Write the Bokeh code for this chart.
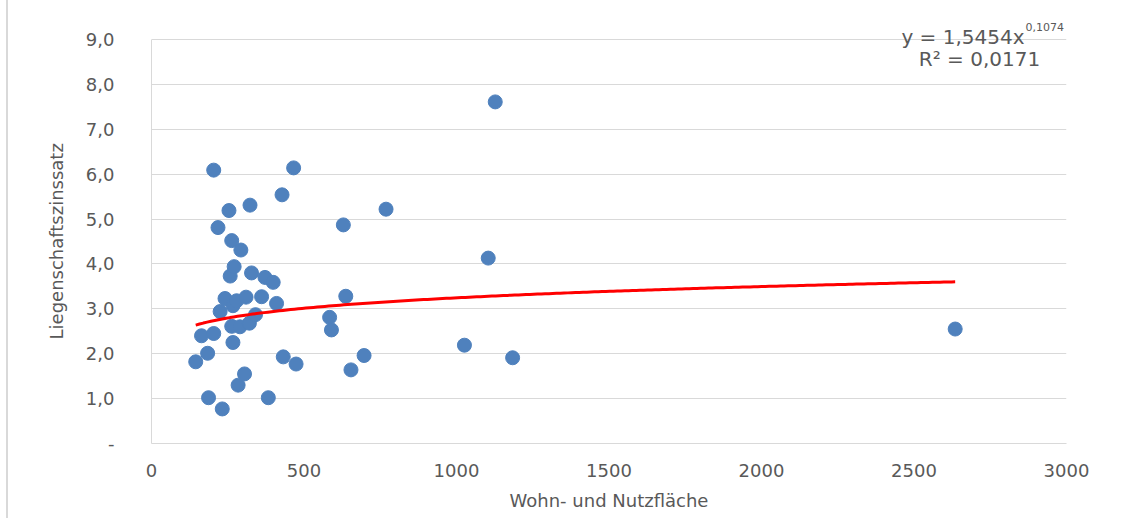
from bokeh.plotting import figure
from bokeh.models import Label, Range1d, FixedTicker
from bokeh.embed import file_html
from bokeh.resources import INLINE

# ---- data ----
flaeche = [145, 164, 184, 187, 204, 204, 218, 225, 232, 241, 254, 258, 263, 263, 267,
           271, 267, 279, 284, 290, 293, 305, 310, 321, 323, 328, 341, 361, 372, 383,
           399, 410, 428, 432, 466, 474, 584, 590, 629, 637, 654, 697, 769, 1026, 1104,
           1127, 1184, 2635]
zinssatz = [1.82, 2.40, 2.01, 1.02, 2.45, 6.09, 4.81, 2.94, 0.77, 3.23, 5.19, 3.73, 2.61, 4.52, 2.25,
            3.94, 3.07, 3.18, 1.30, 2.60, 4.31, 1.55, 3.26, 2.68, 5.31, 3.80, 2.87, 3.27, 3.70, 1.02,
            3.59, 3.12, 5.54, 1.93, 6.14, 1.77, 2.81, 2.53, 4.87, 3.28, 1.64, 1.96, 5.22, 2.19, 4.13,
            7.61, 1.91, 2.55]

# power trend line shown in the chart: y = a * x^b
trend_a = 1.5454
trend_b = 0.1074
trend_text = "y = 1,5454x"
trend_exp_text = "0,1074"
r2_text = "R² = 0,0171"

x_ticks = [0, 500, 1000, 1500, 2000, 2500, 3000]
x_tick_labels = ["0", "500", "1000", "1500", "2000", "2500", "3000"]
y_ticks = [0, 1, 2, 3, 4, 5, 6, 7, 8, 9]
y_tick_labels = ["-", "1,0", "2,0", "3,0", "4,0", "5,0", "6,0", "7,0", "8,0", "9,0"]

x_title = "Wohn- und Nutzfläche"
y_title = "Liegenschaftszinssatz"

FONT = "DejaVu Sans"
GRAY = "#595959"
GRID = "#d9d9d9"

# frame reaches 29px above the 9,0 gridline so the equation text has room
Y_TOP = 9 + 29 * 9 / 404

p = figure(width=1118, height=518, output_backend="svg", toolbar_location=None,
           x_range=Range1d(0, 3000), y_range=Range1d(0, Y_TOP),
           min_border_left=143, min_border_right=60, min_border_top=10, min_border_bottom=75)
p.outline_line_color = None
p.background_fill_color = "white"
p.border_fill_color = "white"

# axes
p.xaxis.ticker = FixedTicker(ticks=x_ticks)
p.yaxis.ticker = FixedTicker(ticks=y_ticks)
p.yaxis.bounds = (0, 9)
p.xaxis.major_label_overrides = {t: l for t, l in zip(x_ticks, x_tick_labels)}
p.yaxis.major_label_overrides = {t: l for t, l in zip(y_ticks, y_tick_labels)}
for ax in (p.xaxis, p.yaxis):
    ax.axis_line_color = GRID
    ax.axis_line_width = 1
    ax.major_tick_line_color = None
    ax.minor_tick_line_color = None
    ax.major_label_text_font = FONT
    ax.major_label_text_font_size = "18px"
    ax.major_label_text_color = GRAY
    ax.axis_label_text_font = FONT
    ax.axis_label_text_font_size = "18px"
    ax.axis_label_text_color = GRAY
    ax.axis_label_text_font_style = "normal"
p.xaxis.axis_label = x_title
# trailing no-break spaces move the title down so it is centred on the 0..9 span
p.yaxis.axis_label = y_title + "\u00a0" * 5
p.xaxis.major_label_standoff = 14
p.xaxis.axis_label_standoff = 10
p.yaxis.major_label_standoff = 31
p.yaxis.axis_label_standoff = 16

p.xgrid.grid_line_color = None
p.ygrid.grid_line_color = GRID
p.ygrid.grid_line_width = 1

# scatter points
p.scatter(flaeche, zinssatz, size=14, fill_color="#4F81BD", line_color="#4F81BD")

# trend line over the data's x range
xs = [min(flaeche) + (max(flaeche) - min(flaeche)) * i / 200 for i in range(201)]
ys = [trend_a * x ** trend_b for x in xs]
p.line(xs, ys, line_color="#FF0000", line_width=3)

# equation labels (canvas units, origin top-left of the canvas)
p.add_layout(Label(x=1014, y=36, x_units="canvas", y_units="canvas", text=trend_text,
                   text_align="right", text_baseline="alphabetic",
                   text_font=FONT, text_font_size="20px", text_color=GRAY))
p.add_layout(Label(x=1015, y=26, x_units="canvas", y_units="canvas", text=trend_exp_text,
                   text_align="left", text_baseline="alphabetic",
                   text_font=FONT, text_font_size="11px", text_color=GRAY))
p.add_layout(Label(x=969, y=58, x_units="canvas", y_units="canvas", text=r2_text,
                   text_align="center", text_baseline="alphabetic",
                   text_font=FONT, text_font_size="20px", text_color=GRAY))

p.styles = {"margin-left": "6px", "border-left": "2px solid #d9d9d9"}

open("out.html", "w").write(file_html(p, INLINE))
